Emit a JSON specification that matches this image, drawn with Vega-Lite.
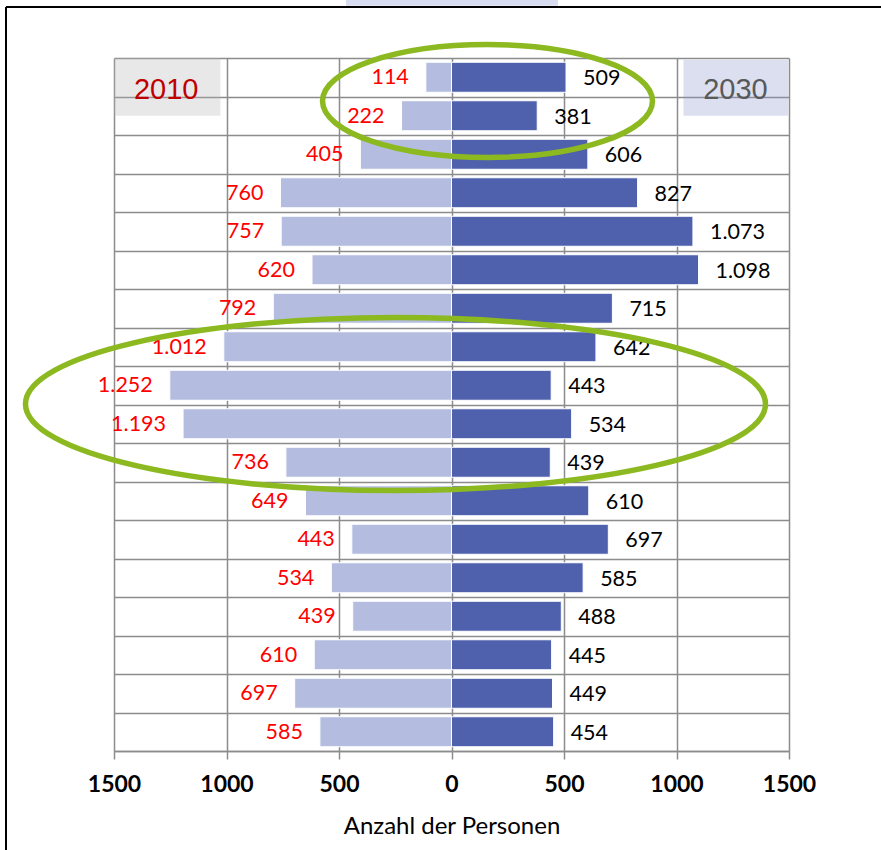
{
  "$schema": "https://vega.github.io/schema/vega-lite/v6.json",
  "autosize": {"type": "none"},
  "padding": {"left": 114, "top": 58, "right": 92, "bottom": 99},
  "width": 675,
  "height": 693,
  "background": "#ffffff",
  "config": {
    "view": {"stroke": null},
    "locale": {"number": {"decimal": ",", "thousands": ".", "grouping": [3], "currency": ["", " €"]}}
  },
  "datasets": {
    "pyr": [
      {"stufe": 1, "bev2010": 114, "bev2030": 509},
      {"stufe": 2, "bev2010": 222, "bev2030": 381},
      {"stufe": 3, "bev2010": 405, "bev2030": 606},
      {"stufe": 4, "bev2010": 760, "bev2030": 827},
      {"stufe": 5, "bev2010": 757, "bev2030": 1073},
      {"stufe": 6, "bev2010": 620, "bev2030": 1098},
      {"stufe": 7, "bev2010": 792, "bev2030": 715},
      {"stufe": 8, "bev2010": 1012, "bev2030": 642},
      {"stufe": 9, "bev2010": 1252, "bev2030": 443},
      {"stufe": 10, "bev2010": 1193, "bev2030": 534},
      {"stufe": 11, "bev2010": 736, "bev2030": 439},
      {"stufe": 12, "bev2010": 649, "bev2030": 610},
      {"stufe": 13, "bev2010": 443, "bev2030": 697},
      {"stufe": 14, "bev2010": 534, "bev2030": 585},
      {"stufe": 15, "bev2010": 439, "bev2030": 488},
      {"stufe": 16, "bev2010": 610, "bev2030": 445},
      {"stufe": 17, "bev2010": 697, "bev2030": 449},
      {"stufe": 18, "bev2010": 585, "bev2030": 454}
    ],
    "eins": [{}]
  },
  "resolve": {"scale": {"x": "independent"}, "axis": {"x": "independent"}},
  "layer": [
    {
      "data": {"name": "pyr"},
      "encoding": {
        "y": {"field": "stufe", "type": "quantitative", "scale": {"domain": [0.5, 18.5], "reverse": true, "nice": false, "zero": false, "padding": 0}},
        "x": {"field": "bev2010", "type": "quantitative", "scale": {"domain": [-1500, 1500], "reverse": true, "nice": false, "zero": false, "padding": 0}, "axis": null},
        "x2": {"datum": 0}
      },
      "layer": [
        {"mark": {"type": "bar", "orient": "horizontal", "size": 30, "color": "#b4bde0", "stroke": "#ffffff", "strokeWidth": 1}},
        {
          "mark": {"type": "text", "align": "right", "baseline": "middle", "dx": -17, "dy": 1, "font": "Lato", "fontSize": 21.5, "color": "#ff0000"},
          "encoding": {"x2": null, "text": {"field": "bev2010", "type": "quantitative", "format": ",d"}}
        }
      ]
    },
    {
      "layer": [
        {
          "data": {"name": "pyr"},
          "mark": {"type": "bar", "orient": "horizontal", "size": 30, "color": "#4f60ad", "stroke": "#ffffff", "strokeWidth": 1},
          "encoding": {
            "x": {
              "field": "bev2030", "type": "quantitative",
              "scale": {"domain": [-1500, 1500], "nice": false, "zero": false, "padding": 0},
              "axis": {
                "values": [-1500, -1000, -500, 0, 500, 1000, 1500],
                "tickCount": 40,
                "labelExpr": "format(abs(datum.value), 'd')",
                "grid": true, "gridColor": "#8c8c8c", "gridWidth": 1.5,
                "domain": true, "domainColor": "#8c8c8c", "domainWidth": 1.5,
                "ticks": true, "tickColor": "#8c8c8c", "tickWidth": 1.5, "tickSize": 8,
                "labelFont": "Lato", "labelFontSize": 23, "labelFontWeight": "bold", "labelColor": "#000000",
                "labelPadding": 14, "labelFlush": false, "labelOverlap": false,
                "title": "Anzahl der Personen", "titleFont": "Lato", "titleFontSize": 24, "titleFontWeight": "normal", "titleColor": "#000000", "titlePadding": 18
              }
            },
            "x2": {"datum": 0},
            "y": {
              "field": "stufe", "type": "quantitative",
              "scale": {"domain": [0.5, 18.5], "reverse": true, "nice": false, "zero": false, "padding": 0},
              "axis": {
                "values": [0.5, 1.5, 2.5, 3.5, 4.5, 5.5, 6.5, 7.5, 8.5, 9.5, 10.5, 11.5, 12.5, 13.5, 14.5, 15.5, 16.5, 17.5, 18.5],
                "tickCount": 40,
                "grid": true, "gridColor": "#8c8c8c", "gridWidth": 1.5,
                "labels": false, "ticks": false, "domain": false, "title": null
              }
            }
          }
        },
        {
          "data": {"name": "eins"},
          "mark": {"type": "rule", "color": "#000000", "strokeWidth": 2},
          "encoding": {
            "x": {"datum": -1980, "type": "quantitative", "scale": {"domain": [-1500, 1500], "nice": false, "zero": false, "padding": 0}},
            "x2": {"datum": 1909},
            "y": {"datum": -0.825, "type": "quantitative", "scale": {"domain": [0.5, 18.5], "reverse": true, "nice": false, "zero": false, "padding": 0}}
          }
        },
        {
          "data": {"name": "eins"},
          "mark": {"type": "rule", "color": "#000000", "strokeWidth": 2},
          "encoding": {
            "x": {"datum": -1980, "type": "quantitative", "scale": {"domain": [-1500, 1500], "nice": false, "zero": false, "padding": 0}},
            "y": {"datum": -0.825, "type": "quantitative", "scale": {"domain": [0.5, 18.5], "reverse": true, "nice": false, "zero": false, "padding": 0}},
            "y2": {"datum": 21.1}
          }
        },
        {
          "data": {"name": "eins"},
          "mark": {"type": "rect", "color": "#d8dcf0"},
          "encoding": {
            "x": {"datum": -469, "type": "quantitative", "scale": {"domain": [-1500, 1500], "nice": false, "zero": false, "padding": 0}},
            "x2": {"datum": 473},
            "y": {"datum": -1.1, "type": "quantitative", "scale": {"domain": [0.5, 18.5], "reverse": true, "nice": false, "zero": false, "padding": 0}},
            "y2": {"datum": -0.86}
          }
        },
        {
          "data": {"name": "eins"},
          "mark": {"type": "rect", "color": "#b2b2b2", "opacity": 0.3},
          "encoding": {
            "x": {"datum": -1500, "type": "quantitative", "scale": {"domain": [-1500, 1500], "nice": false, "zero": false, "padding": 0}},
            "x2": {"datum": -1027},
            "y": {"datum": 0.5, "type": "quantitative", "scale": {"domain": [0.5, 18.5], "reverse": true, "nice": false, "zero": false, "padding": 0}},
            "y2": {"datum": 2.0}
          }
        },
        {
          "data": {"name": "eins"},
          "mark": {"type": "rect", "color": "#8a94cd", "opacity": 0.3},
          "encoding": {
            "x": {"datum": 1031, "type": "quantitative", "scale": {"domain": [-1500, 1500], "nice": false, "zero": false, "padding": 0}},
            "x2": {"datum": 1496},
            "y": {"datum": 0.55, "type": "quantitative", "scale": {"domain": [0.5, 18.5], "reverse": true, "nice": false, "zero": false, "padding": 0}},
            "y2": {"datum": 2.0}
          }
        },
        {
          "data": {"name": "eins"},
          "mark": {"type": "text", "text": "2010", "align": "center", "baseline": "middle", "font": "Liberation Sans", "fontSize": 29, "color": "#c00000"},
          "encoding": {
            "x": {"datum": -1268, "type": "quantitative", "scale": {"domain": [-1500, 1500], "nice": false, "zero": false, "padding": 0}},
            "y": {"datum": 1.32, "type": "quantitative", "scale": {"domain": [0.5, 18.5], "reverse": true, "nice": false, "zero": false, "padding": 0}}
          }
        },
        {
          "data": {"name": "eins"},
          "mark": {"type": "text", "text": "2030", "align": "center", "baseline": "middle", "font": "Liberation Sans", "fontSize": 29, "color": "#595959"},
          "encoding": {
            "x": {"datum": 1262, "type": "quantitative", "scale": {"domain": [-1500, 1500], "nice": false, "zero": false, "padding": 0}},
            "y": {"datum": 1.32, "type": "quantitative", "scale": {"domain": [0.5, 18.5], "reverse": true, "nice": false, "zero": false, "padding": 0}}
          }
        },
        {
          "data": {"name": "pyr"},
          "mark": {"type": "text", "align": "left", "baseline": "middle", "dx": 17, "dy": 2, "font": "Lato", "fontSize": 21.5, "color": "#000000"},
          "encoding": {
            "x": {"field": "bev2030", "type": "quantitative", "scale": {"domain": [-1500, 1500], "nice": false, "zero": false, "padding": 0}},
            "y": {"field": "stufe", "type": "quantitative", "scale": {"domain": [0.5, 18.5], "reverse": true, "nice": false, "zero": false, "padding": 0}},
            "text": {"field": "bev2030", "type": "quantitative", "format": ",d"}
          }
        },
        {
          "data": {"name": "eins"},
          "mark": {"type": "point", "shape": "M 1 0 C 1 0.1891 0.5523 0.3424 0 0.3424 C -0.5523 0.3424 -1 0.1891 -1 0 C -1 -0.1891 -0.5523 -0.3424 0 -0.3424 C 0.5523 -0.3424 1 -0.1891 1 0 Z", "size": 108900, "filled": false, "color": "#8cb820", "strokeWidth": 5.5, "opacity": 1},
          "encoding": {
            "x": {"datum": 160, "type": "quantitative", "scale": {"domain": [-1500, 1500], "nice": false, "zero": false, "padding": 0}},
            "y": {"datum": 1.617, "type": "quantitative", "scale": {"domain": [0.5, 18.5], "reverse": true, "nice": false, "zero": false, "padding": 0}}
          }
        },
        {
          "data": {"name": "eins"},
          "mark": {"type": "point", "shape": "M 1 0 C 1 0.1291 0.5523 0.2338 0 0.2338 C -0.5523 0.2338 -1 0.1291 -1 0 C -1 -0.1291 -0.5523 -0.2338 0 -0.2338 C 0.5523 -0.2338 1 -0.1291 1 0 Z", "size": 547600, "filled": false, "color": "#8cb820", "strokeWidth": 5.5, "opacity": 1},
          "encoding": {
            "x": {"datum": -249, "type": "quantitative", "scale": {"domain": [-1500, 1500], "nice": false, "zero": false, "padding": 0}},
            "y": {"datum": 9.487, "type": "quantitative", "scale": {"domain": [0.5, 18.5], "reverse": true, "nice": false, "zero": false, "padding": 0}}
          }
        }
      ]
    }
  ]
}
